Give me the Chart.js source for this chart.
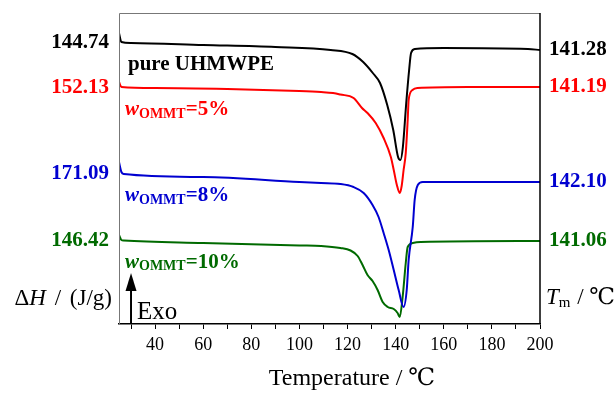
<!DOCTYPE html>
<html>
<head>
<meta charset="utf-8">
<script src="https://cdn.jsdelivr.net/npm/chart.js@4/dist/chart.umd.min.js"></script>
<style>
  html, body { margin: 0; padding: 0; background: #fff; }
  canvas { display: block; }
</style>
</head>
<body>
<canvas id="dscChart" width="616" height="396"></canvas>
<script>
// DSC melting curves, heat flow in arbitrary units (curves shifted vertically)
const seriesNames = ['pure UHMWPE', '5%', '8%', '10%'];
const seriesColors = ['#000000', '#ff0000', '#0000d0', '#006a00'];
const deltaH = ['144.74', '152.13', '171.09', '146.42'];
const meltTemp = ['141.28', '141.19', '142.10', '141.06'];

const pureTemp = [25, 26, 30, 60, 90, 113, 122, 126.5, 130.5, 133.5, 136.5, 139, 141, 142, 143, 144.4, 145.6, 146.4, 148, 160, 195, 200];
const pureFlow = [29.1, 28.2, 28.1, 27.9, 27.7, 27.4, 27.0, 26.2, 25.1, 24.1, 21.9, 19.4, 16.7, 16.4, 17.7, 22.1, 25.4, 27.1, 27.5, 27.6, 27.5, 27.4];

const ommt5Temp = [25, 26, 40, 70, 100, 109, 114, 117, 122.5, 126, 128.3, 131.7, 135, 138, 139.2, 140.5, 141.7, 142.5, 143.3, 144.2, 145, 145.4, 147, 149, 170, 200];
const ommt5Flow = [24.2, 23.7, 23.6, 23.5, 23.3, 23.2, 23.1, 22.95, 22.6, 21.6, 21.1, 20.1, 18.6, 16.7, 15.4, 13.9, 13.1, 13.8, 15.4, 17.1, 20.4, 22.4, 23.4, 23.6, 23.7, 23.7];

const ommt8Temp = [25, 26, 27, 60, 100, 109, 117, 122.5, 126.7, 130.4, 132.9, 135, 137.1, 139.2, 141.25, 143.3, 144.6, 145.4, 147.1, 147.9, 149.2, 151.25, 200];
const ommt8Flow = [16.2, 15.2, 15.0, 14.7, 14.2, 14.1, 14.0, 13.7, 13.1, 11.9, 10.7, 9.1, 7.4, 5.4, 3.4, 1.7, 3.4, 6.4, 9.7, 12.4, 13.9, 14.2, 14.2];

const ommt10Temp = [25, 26, 27, 60, 100, 109, 117, 121.25, 124.2, 126.25, 128.3, 130.4, 132.5, 134.6, 136.7, 139.2, 140.8, 141.7, 142.9, 144.2, 145, 147.1, 150.4, 200];
const ommt10Flow = [8.9, 8.4, 8.35, 8.1, 7.85, 7.8, 7.6, 7.35, 6.8, 5.9, 4.9, 4.3, 3.4, 2.2, 1.7, 1.5, 1.1, 0.7, 2.7, 6.1, 7.7, 8.1, 8.2, 8.3];

const temps = [pureTemp, ommt5Temp, ommt8Temp, ommt10Temp];
const flows = [pureFlow, ommt5Flow, ommt8Flow, ommt10Flow];

const serif = '"Liberation Serif", "Times New Roman", "DejaVu Serif", "Noto Sans CJK SC", serif';

function toPoints(t, f) {
    return t.map((x, i) => ({ x: x, y: f[i] }));
}

// draw text pieces one after another, each with its own font, y shift and gap
function drawRun(ctx, x, y, parts, color) {
    ctx.fillStyle = color;
    parts.forEach(p => {
        ctx.font = p.font;
        ctx.fillText(p.text, x, y + (p.dy || 0));
        x += ctx.measureText(p.text).width + (p.gap || 0);
    });
    return x;
}

function runWidth(ctx, parts) {
    let w = 0;
    parts.forEach(p => {
        ctx.font = p.font;
        w += ctx.measureText(p.text).width + (p.gap || 0);
    });
    return w;
}

const annotations = {
    id: 'annotations',
    afterDraw(chart) {
        const ctx = chart.ctx;
        const area = chart.chartArea;
        const xs = chart.scales.x;
        const ys = chart.scales.y;
        ctx.save();

        // frame (top, left, right)
        ctx.lineWidth = 1;
        ctx.strokeStyle = '#777';
        ctx.beginPath();
        ctx.moveTo(area.left + 0.5, area.bottom);
        ctx.lineTo(area.left + 0.5, area.top + 0.5);
        ctx.lineTo(area.right, area.top + 0.5);
        ctx.stroke();
        ctx.strokeStyle = '#000';
        ctx.lineWidth = 1.5;
        ctx.beginPath();
        ctx.moveTo(area.right, area.top);
        ctx.lineTo(area.right, area.bottom);
        ctx.stroke();

        ctx.textBaseline = 'middle';
        const bold = 'bold 21px ' + serif;
        const boldItalic = 'italic bold 21px ' + serif;
        const sub = 'bold 14px ' + serif;

        for (let i = 0; i < seriesNames.length; i++) {
            const f = flows[i];
            const color = seriesColors[i];
            const yLeft = ys.getPixelForValue(f[2]);
            const yRight = ys.getPixelForValue(f[f.length - 1]);

            ctx.font = bold;
            ctx.fillStyle = color;
            ctx.textAlign = 'right';
            ctx.fillText(deltaH[i], area.left - 10, yLeft);
            ctx.textAlign = 'left';
            ctx.fillText(meltTemp[i], area.right + 9, yRight);

            const yName = yLeft + 22;
            if (i === 0) {
                ctx.fillText(seriesNames[i], area.left + 9, yName);
            } else {
                drawRun(ctx, area.left + 6, yName, [
                    { text: 'w', font: boldItalic },
                    { text: 'OMMT', font: sub, dy: 4 },
                    { text: '=' + seriesNames[i], font: bold },
                ], color);
            }
        }

        // axis captions
        const leftCap = [
            { text: '\u0394', font: '23px ' + serif },
            { text: 'H', font: 'italic 23px ' + serif, gap: 3 },
            { text: ' / ', font: '23px ' + serif, gap: 3 },
            { text: '(J/g)', font: '23px ' + serif },
        ];
        drawRun(ctx, area.left - 7 - runWidth(ctx, leftCap), 299, leftCap, '#000');
        drawRun(ctx, area.right + 6, 298, [
            { text: 'T', font: 'italic 23px ' + serif },
            { text: 'm', font: '15px ' + serif, dy: 5, gap: 1 },
            { text: ' / \u2103', font: '23px ' + serif },
        ], '#000');

        ctx.textAlign = 'center';
        ctx.font = '24px ' + serif;
        ctx.fillText('Temperature / \u2103', 352, 379);
        ctx.textAlign = 'left';

        // Exo arrow
        const ax = xs.getPixelForValue(30);
        ctx.strokeStyle = '#000';
        ctx.fillStyle = '#000';
        ctx.lineWidth = 2;
        ctx.beginPath();
        ctx.moveTo(ax, area.bottom - 1);
        ctx.lineTo(ax, 288);
        ctx.stroke();
        ctx.beginPath();
        ctx.moveTo(ax, 273);
        ctx.lineTo(ax - 5.5, 291);
        ctx.lineTo(ax + 5.5, 291);
        ctx.closePath();
        ctx.fill();
        ctx.font = '25px ' + serif;
        ctx.textBaseline = 'alphabetic';
        ctx.fillText('Exo', ax + 6, 319);

        ctx.restore();
    }
};

const datasets = seriesNames.map((name, i) => ({
    label: name,
    data: toPoints(temps[i], flows[i]),
    borderColor: seriesColors[i],
    borderWidth: 2,
    pointRadius: 0,
    fill: false,
    cubicInterpolationMode: 'monotone',
}));

new Chart(document.getElementById('dscChart').getContext('2d'), {
    type: 'line',
    data: { datasets: datasets },
    options: {
        responsive: false,
        animation: false,
        devicePixelRatio: 1,
        layout: { padding: { left: 119, right: 76, top: 13, bottom: 0 } },
        plugins: {
            legend: { display: false },
            tooltip: { enabled: false },
        },
        scales: {
            x: {
                type: 'linear',
                min: 25,
                max: 200,
                afterFit: scale => { scale.height = 72; },
                ticks: {
                    stepSize: 10,
                    includeBounds: false,
                    autoSkip: false,
                    maxRotation: 0,
                    padding: 5,
                    color: '#000',
                    font: { family: serif, size: 18 },
                    callback: v => (v % 20 === 0 ? String(v) : ''),
                },
                grid: {
                    drawOnChartArea: false,
                    drawTicks: true,
                    tickLength: 5,
                    color: '#000',
                },
                border: { display: true, color: '#000', width: 1.5 },
                title: { display: false },
            },
            y: {
                display: false,
                min: 0,
                max: 31.1,
            },
        },
    },
    plugins: [annotations],
});
</script>
</body>
</html>
